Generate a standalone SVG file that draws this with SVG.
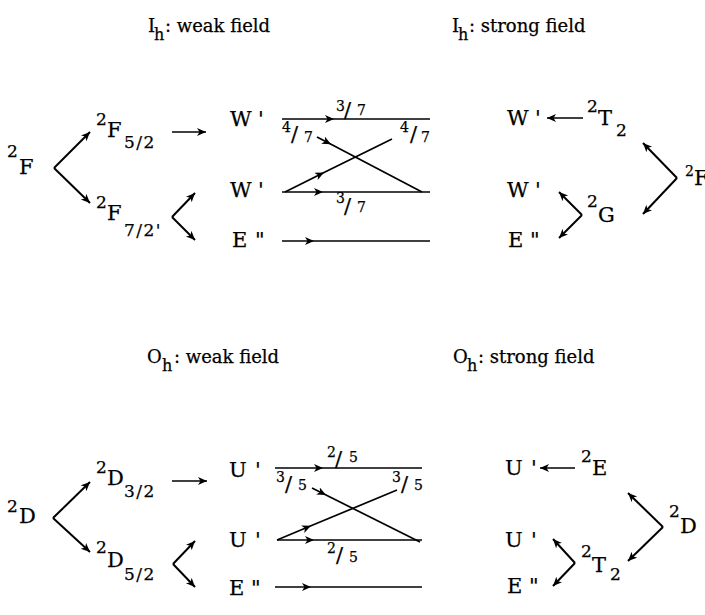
<svg xmlns="http://www.w3.org/2000/svg" width="705" height="615" viewBox="0 0 705 615">
<style>
text { font-family: "DejaVu Serif", "Liberation Serif", serif; fill: #000; stroke: #000; stroke-width: 0.25; }
.ti { font-size: 18px; }
.tis { font-size: 16px; }
.b { font-size: 21px; }
.s { font-size: 17px; }
.sub { font-size: 17px; letter-spacing: 1.5px; }
.fr { font-size: 14px; }
.sl { font-size: 21px; }
.ln { stroke: #000; stroke-width: 1.7; fill: none; }
.ch { stroke: #000; stroke-width: 2; fill: none; }
</style>
<defs>
<marker id="ah" markerWidth="12" markerHeight="10" refX="9" refY="4" orient="auto" markerUnits="userSpaceOnUse">
<path d="M0,0 L9,4 L0,8 L2.5,4 z" fill="#000"/>
</marker>
</defs>

<!-- titles -->
<g id="title-ih-weak"><text class="ti" x="148" y="32">I</text><text class="tis" x="154" y="40">h</text><text class="ti" x="165" y="32">: weak field</text></g>
<g id="title-ih-strong"><text class="ti" x="452" y="32">I</text><text class="tis" x="458" y="40">h</text><text class="ti" x="469" y="32">: strong field</text></g>
<g id="title-oh-weak"><text class="ti" x="147" y="363">O</text><text class="tis" x="162" y="371">h</text><text class="ti" x="174" y="363">: weak field</text></g>
<g id="title-oh-strong"><text class="ti" x="453" y="363">O</text><text class="tis" x="467" y="371">h</text><text class="ti" x="478" y="363">: strong field</text></g>

<!-- Ih weak field nodes -->
<g id="n-2F"><text class="s" x="7" y="157">2</text><text class="b" x="19" y="174">F</text></g>
<g id="n-2F52"><text class="s" x="96" y="125">2</text><text class="b" x="107" y="137">F</text><text class="sub" x="124" y="148">5/2</text></g>
<g id="n-2F72"><text class="s" x="96" y="208">2</text><text class="b" x="107" y="220">F</text><text class="sub" x="124" y="236">7/2'</text></g>
<g id="n-W1"><text class="b" x="230" y="126">W</text><text class="b" x="258" y="126">'</text></g>
<g id="n-W2"><text class="b" x="230" y="197">W</text><text class="b" x="258" y="197">'</text></g>
<g id="n-E1"><text class="b" x="232" y="247">E</text><text class="b" x="255" y="247">"</text></g>
<g id="f-top37"><text class="fr" x="336" y="111">3</text><text class="sl" x="344" y="117">/</text><text class="fr" x="357" y="115">7</text></g>
<g id="f-l47"><text class="fr" x="282" y="132">4</text><text class="sl" x="291" y="141">/</text><text class="fr" x="304" y="142">7</text></g>
<g id="f-r47"><text class="fr" x="400" y="132">4</text><text class="sl" x="410" y="141">/</text><text class="fr" x="421" y="142">7</text></g>
<g id="f-mid37"><text class="fr" x="336" y="203">3</text><text class="sl" x="344" y="213">/</text><text class="fr" x="357" y="212">7</text></g>

<!-- Ih strong field nodes -->
<g id="n-W3"><text class="b" x="507" y="125">W</text><text class="b" x="535" y="125">'</text></g>
<g id="n-2T2"><text class="s" x="587" y="112">2</text><text class="b" x="598" y="125">T</text><text class="s" x="616" y="136">2</text></g>
<g id="n-2Fr"><text class="fr" x="685" y="176">2</text><text class="b" x="694" y="185">F</text></g>
<g id="n-W4"><text class="b" x="507" y="197">W</text><text class="b" x="535" y="197">'</text></g>
<g id="n-2G"><text class="s" x="587" y="207">2</text><text class="b" x="598" y="222">G</text></g>
<g id="n-E2"><text class="b" x="508" y="247">E</text><text class="b" x="530" y="247">"</text></g>

<!-- Oh weak field nodes -->
<g id="n-2D"><text class="s" x="7" y="512">2</text><text class="b" x="19" y="523">D</text></g>
<g id="n-2D32"><text class="s" x="96" y="473">2</text><text class="b" x="107" y="485">D</text><text class="sub" x="124" y="497">3/2</text></g>
<g id="n-2D52"><text class="s" x="96" y="553">2</text><text class="b" x="107" y="567">D</text><text class="sub" x="124" y="580">5/2</text></g>
<g id="n-U1"><text class="b" x="229" y="477">U</text><text class="b" x="255" y="477">'</text></g>
<g id="n-U2"><text class="b" x="229" y="547">U</text><text class="b" x="255" y="547">'</text></g>
<g id="n-E3"><text class="b" x="229" y="595">E</text><text class="b" x="251" y="595">"</text></g>
<g id="f-top25"><text class="fr" x="327" y="457">2</text><text class="sl" x="335" y="466">/</text><text class="fr" x="349" y="462">5</text></g>
<g id="f-l35"><text class="fr" x="276" y="482">3</text><text class="sl" x="285" y="491">/</text><text class="fr" x="298" y="490">5</text></g>
<g id="f-r35"><text class="fr" x="392" y="482">3</text><text class="sl" x="401" y="491">/</text><text class="fr" x="414" y="490">5</text></g>
<g id="f-mid25"><text class="fr" x="327" y="553">2</text><text class="sl" x="336" y="562">/</text><text class="fr" x="349" y="562">5</text></g>

<!-- Oh strong field nodes -->
<g id="n-U3"><text class="b" x="505" y="475">U</text><text class="b" x="531" y="475">'</text></g>
<g id="n-2E"><text class="s" x="581" y="462">2</text><text class="b" x="592" y="475">E</text></g>
<g id="n-2Dr"><text class="s" x="669" y="517">2</text><text class="b" x="680" y="533">D</text></g>
<g id="n-U4"><text class="b" x="505" y="547">U</text><text class="b" x="531" y="547">'</text></g>
<g id="n-2T2b"><text class="s" x="581" y="557">2</text><text class="b" x="592" y="572">T</text><text class="s" x="610" y="580">2</text></g>
<g id="n-E4"><text class="b" x="507" y="593">E</text><text class="b" x="529" y="593">"</text></g>

<g id="connectors">
<!-- Ih weak -->
<path class="ch" d="M54,168 L90,132" marker-end="url(#ah)"/>
<path class="ch" d="M54,168 L90,203" marker-end="url(#ah)"/>
<path class="ln" d="M172,132 L206,132" marker-end="url(#ah)"/>
<path class="ch" d="M172,217 L195,193" marker-end="url(#ah)"/>
<path class="ch" d="M172,217 L195,240" marker-end="url(#ah)"/>
<path class="ln" d="M282,119 L334,119 L430,119" marker-mid="url(#ah)"/>
<path class="ln" d="M282,192 L323,192 L430,192" marker-mid="url(#ah)"/>
<path class="ln" d="M282,241 L314,241 L430,241" marker-mid="url(#ah)"/>
<path class="ln" d="M317,137 L331,144.3 L422,192" marker-mid="url(#ah)"/>
<path class="ln" d="M285,192 L324,172.4 L392,139" marker-mid="url(#ah)"/>
<!-- Ih strong -->
<path class="ln" d="M583,118 L547,118" marker-end="url(#ah)"/>
<path class="ch" d="M677,178 L643,143" marker-end="url(#ah)"/>
<path class="ch" d="M677,178 L643,214" marker-end="url(#ah)"/>
<path class="ch" d="M582,215 L559,192" marker-end="url(#ah)"/>
<path class="ch" d="M582,215 L559,238" marker-end="url(#ah)"/>
<!-- Oh weak -->
<path class="ch" d="M53,518 L90,482" marker-end="url(#ah)"/>
<path class="ch" d="M53,518 L90,552" marker-end="url(#ah)"/>
<path class="ln" d="M172,481 L207,481" marker-end="url(#ah)"/>
<path class="ch" d="M173,564 L195,541" marker-end="url(#ah)"/>
<path class="ch" d="M173,564 L195,587" marker-end="url(#ah)"/>
<path class="ln" d="M275,468 L323,468 L422,468" marker-mid="url(#ah)"/>
<path class="ln" d="M277,540 L314,540 L422,540" marker-mid="url(#ah)"/>
<path class="ln" d="M275,587 L311,587 L422,587" marker-mid="url(#ah)"/>
<path class="ln" d="M312,488 L326,495 L420,542" marker-mid="url(#ah)"/>
<path class="ln" d="M277,540 L311,525.8 L397,490" marker-mid="url(#ah)"/>
<!-- Oh strong -->
<path class="ln" d="M575,468 L540,468" marker-end="url(#ah)"/>
<path class="ch" d="M663,527 L628,493" marker-end="url(#ah)"/>
<path class="ch" d="M663,527 L628,561" marker-end="url(#ah)"/>
<path class="ch" d="M575,563 L553,539" marker-end="url(#ah)"/>
<path class="ch" d="M575,563 L553,586" marker-end="url(#ah)"/>
</g>
</svg>
